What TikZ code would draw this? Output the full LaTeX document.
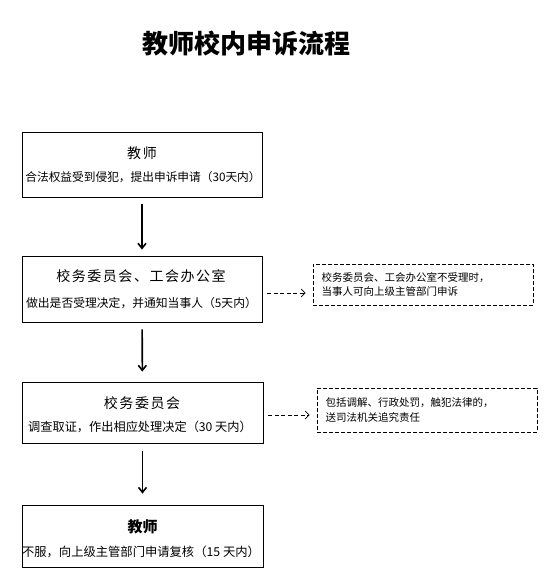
\documentclass[tikz,border=0pt]{standalone}
\usepackage{fontspec}
\setmainfont{Noto Sans CJK SC}
\usetikzlibrary{arrows.meta}

\tikzset{
  box/.style={draw, line width=0.8pt, minimum width=240pt, inner sep=0pt},
  note/.style={draw, dash pattern=on 4pt off 2pt, line width=0.7pt, text width=203pt,
    inner xsep=8.5pt, align=left, font=\fontsize{10.5}{14.5}\selectfont},
  head/.style={font=\fontsize{14}{16}\selectfont\addfontfeature{LetterSpace=11}},
  body/.style={font=\fontsize{#1}{14}\selectfont},
  body/.default=12,
  flow/.style={line width=1.6pt, -{Straight Barb[length=5pt,width=8pt]}, shorten <=7pt, shorten >=10pt},
  side/.style={line width=0.7pt, dash pattern=on 4pt off 2.5pt, -{Straight Barb[length=4pt,width=8pt]},
    shorten <=5pt, shorten >=7pt}
}

\begin{document}
\begin{tikzpicture}[x=1pt, y=-1pt]
  \useasboundingbox (0,0) rectangle (551,585);

  % 标题
  \node[font=\fontsize{26}{30}\selectfont\bfseries] (title) at (246.5,44) {教师校内申诉流程};

  % 主流程框
  \node[box, minimum height=65pt] (b1) at (142,164.5) {};
  \node[box, minimum height=66pt] (b2) at (142,289) {};
  \node[box, minimum width=241pt, minimum height=61pt] (b3) at (142.5,412.5) {};
  \node[box, minimum width=241pt, minimum height=62pt] (b4) at (142.5,536) {};

  % 框内文字
  \node[head] (b1h) at (142,153) {教师};
  \node[body=11.7] (b1s) at (143,177) {合法权益受到侵犯，提出申诉申请（30天内）};
  \node[head] (b2h) at (141,276) {校务委员会、工会办公室};
  \node[body=11.8] (b2s) at (141.5,303) {做出是否受理决定，并通知当事人（5天内）};
  \node[head] (b3h) at (142,403) {校务委员会};
  \node[body=12.2] (b3s) at (140,427) {调查取证，作出相应处理决定（30 天内）};
  \node[font=\fontsize{15}{17}\selectfont\bfseries] (b4h) at (142.5,527) {教师};
  \node[body=12.3] (b4s) at (141,552) {不服，向上级主管部门申请复核（15 天内）};

  % 说明框
  \node[note, minimum height=41pt] (nA) at (423,284.5)
    {校务委员会、工会办公室不受理时，\\当事人可向上级主管部门申诉};
  \node[note, minimum height=44pt] (nB) at (427,410)
    {包括调解、行政处罚，触犯法律的，\\送司法机关追究责任};

  % 箭头
  \draw[flow, shorten >=6pt] (b1) -- (b2);
  \draw[flow] (b2) -- (b3);
  \draw[flow, shorten <=8pt, shorten >=11pt] (b3) -- (b4);
  \draw[side, transform canvas={yshift=-4pt}] (b2.east) -- (b2.east -| nA.west);
  \draw[side, transform canvas={yshift=-2.5pt}] (b3.east) -- (b3.east -| nB.west);
\end{tikzpicture}
\end{document}
